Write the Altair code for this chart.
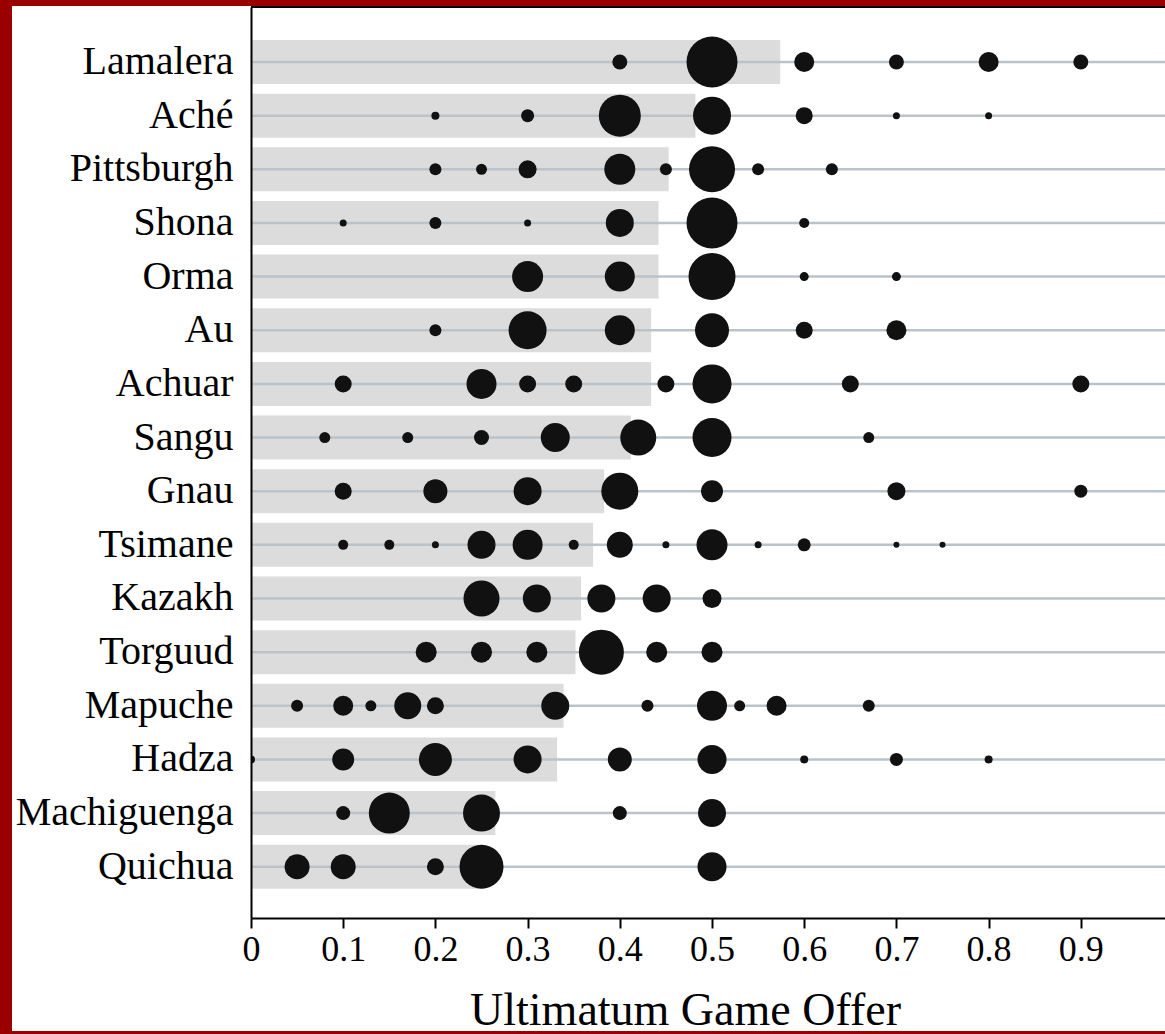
import altair as alt
import pandas as pd

rows = ["Lamalera", "Aché", "Pittsburgh", "Shona", "Orma", "Au", "Achuar", "Sangu",
        "Gnau", "Tsimane", "Kazakh", "Torguud", "Mapuche", "Hadza", "Machiguenga", "Quichua"]
mean_offer = [0.574, 0.482, 0.453, 0.442, 0.442, 0.434, 0.434, 0.412,
              0.383, 0.371, 0.358, 0.352, 0.339, 0.332, 0.265, 0.254]

# (offer, dot diameter estimate) per society
lamalera = [(0.4, 15), (0.5, 51), (0.6, 20), (0.7, 15), (0.8, 20), (0.9, 15)]
ache = [(0.2, 8), (0.3, 13), (0.4, 42), (0.5, 38), (0.6, 17), (0.7, 7), (0.8, 7)]
pittsburgh = [(0.2, 12), (0.25, 11), (0.3, 18), (0.4, 31), (0.45, 12), (0.5, 46), (0.55, 12), (0.63, 12)]
shona = [(0.1, 7), (0.2, 12), (0.3, 7), (0.4, 28), (0.5, 51), (0.6, 10)]
orma = [(0.3, 31), (0.4, 30), (0.5, 47), (0.6, 9), (0.7, 9)]
au = [(0.2, 12), (0.3, 38), (0.4, 30), (0.5, 34), (0.6, 17), (0.7, 20)]
achuar = [(0.1, 17), (0.25, 30), (0.3, 17), (0.35, 17), (0.45, 17), (0.5, 39), (0.65, 17), (0.9, 17)]
sangu = [(0.08, 11), (0.17, 11), (0.25, 15), (0.33, 29), (0.42, 36), (0.5, 39), (0.67, 11)]
gnau = [(0.1, 17), (0.2, 24), (0.3, 28), (0.4, 37), (0.5, 22), (0.7, 18), (0.9, 13)]
tsimane = [(0.1, 10), (0.15, 10), (0.2, 7), (0.25, 28), (0.3, 30), (0.35, 10), (0.4, 26), (0.45, 7),
           (0.5, 31), (0.55, 7), (0.6, 13), (0.7, 6), (0.75, 6)]
kazakh = [(0.25, 36), (0.31, 28), (0.38, 28), (0.44, 28), (0.5, 19)]
torguud = [(0.19, 21), (0.25, 21), (0.31, 21), (0.38, 45), (0.44, 21), (0.5, 21)]
mapuche = [(0.05, 12), (0.1, 20), (0.13, 11), (0.17, 27), (0.2, 17), (0.33, 28), (0.43, 12),
           (0.5, 30), (0.53, 11), (0.57, 20), (0.67, 12)]
hadza = [(0.0, 8), (0.1, 22), (0.2, 33), (0.3, 28), (0.4, 24), (0.5, 29), (0.6, 8), (0.7, 13), (0.8, 8)]
machiguenga = [(0.1, 14), (0.15, 41), (0.25, 37), (0.4, 14), (0.5, 28)]
quichua = [(0.05, 25), (0.1, 25), (0.2, 17), (0.25, 44), (0.5, 29)]

row_points = [lamalera, ache, pittsburgh, shona, orma, au, achuar, sangu,
              gnau, tsimane, kazakh, torguud, mapuche, hadza, machiguenga, quichua]

x_ticks = [0, 0.1, 0.2, 0.3, 0.4, 0.5, 0.6, 0.7, 0.8, 0.9]

bars_df = pd.DataFrame({"group": rows, "mean": mean_offer})
pts = []
for g, plist in zip(rows, row_points):
    for off, d in plist:
        pts.append({"group": g, "offer": off, "area": d * d})
pts_df = pd.DataFrame(pts)

W, H = 914, 911
FONT = "Liberation Serif"

xscale = alt.Scale(domain=[0, 0.9913], nice=False, zero=True)
yscale = alt.Scale(domain=rows, paddingInner=0.18, paddingOuter=0.58, align=0.53)

xaxis = alt.Axis(values=x_ticks, title="Ultimatum Game Offer", grid=False,
                 labelExpr="datum.value == 0 ? '0' : format(datum.value, '.1f')",
                 labelFont=FONT, labelFontSize=36, labelColor="black", labelPadding=4,
                 titleFont=FONT, titleFontSize=46, titleFontWeight="normal", titleColor="black",
                 titleX=434, titleY=106, titleBaseline="alphabetic", titleAlign="center",
                 tickSize=10, tickWidth=2, tickColor="black",
                 domainColor="black", domainWidth=2, zindex=1, labelFlush=False, labelOverlap=False)
yaxis = alt.Axis(title=None, ticks=False, grid=False, labelFont=FONT, labelFontSize=40,
                 labelColor="black", labelPadding=18, domainColor="black", domainWidth=2,
                 zindex=1, labelLimit=400)

dummy = pd.DataFrame({"a": [0]})
panel = alt.Chart(dummy).mark_rect(color="white").encode(
    x=alt.value(-239), x2=alt.value(W), y=alt.value(-1), y2=alt.value(1024)
)
topline = alt.Chart(dummy).mark_rule(color="black", strokeWidth=2).encode(
    x=alt.value(0), x2=alt.value(W), y=alt.value(0)
)

bars = alt.Chart(bars_df).mark_bar(color="#dcdcdc").encode(
    x=alt.X("mean:Q", scale=xscale, axis=xaxis),
    y=alt.Y("group:N", scale=yscale, axis=yaxis, sort=rows),
)
lines = alt.Chart(bars_df).mark_rule(color="#b9c3cb", strokeWidth=2.5).encode(
    y=alt.Y("group:N", scale=yscale, axis=yaxis, sort=rows),
)
dots = alt.Chart(pts_df).mark_circle(color="#111111", opacity=1, clip=True).encode(
    x=alt.X("offer:Q", scale=xscale, axis=xaxis),
    y=alt.Y("group:N", scale=yscale, axis=yaxis, sort=rows),
    size=alt.Size("area:Q", scale=None, legend=None),
)

chart = alt.layer(panel, bars, lines, dots, topline).properties(
    width=W, height=H,
    padding={"left": 251, "top": 7, "right": 0, "bottom": 116},
    autosize=alt.AutoSizeParams(type="none"),
    background="#9a0000",
).configure_view(stroke=None)

chart.save("out.html", embed_options={"renderer": "svg", "actions": False})
